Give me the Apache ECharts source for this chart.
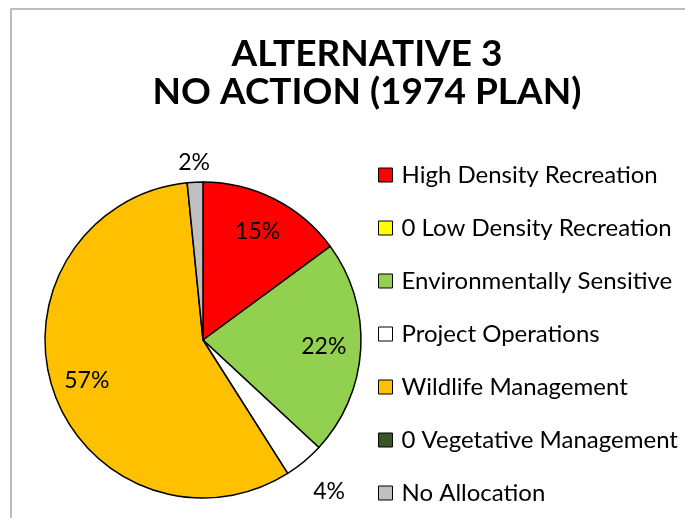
<!DOCTYPE html>
<html>
<head>
<meta charset="utf-8">
<script src="https://cdn.jsdelivr.net/npm/echarts@6/dist/echarts.min.js"></script>
<style>
  html, body { margin: 0; padding: 0; background: #ffffff; }
  #chart { width: 685px; height: 518px; }
</style>
</head>
<body>
<div id="chart"></div>
<script>
// ---- data ----
const titleLines = ['ALTERNATIVE 3', 'NO ACTION (1974 PLAN)'];
const categories = [
  'High Density Recreation',
  '0 Low Density Recreation',
  'Environmentally Sensitive',
  'Project Operations',
  'Wildlife Management',
  '0 Vegetative Management',
  'No Allocation'
];
const values = [14.9, 0, 22.0, 4.1, 57.4, 0, 1.6];
const colors = ['#FF0000', '#FFFF00', '#92D050', '#FFFFFF', '#FFC000', '#375623', '#BFBFBF'];

// ---- style ----
const pieCenter = [203, 340];
const pieRadius = 158;
const labelRadius = [121, 121, 121, 197, 123, 121, 178];
const FONT = 'Lato';

const chart = echarts.init(document.getElementById('chart'), null, { renderer: 'canvas' });

const data = categories.map((name, i) => {
  const item = { name: name, value: values[i], itemStyle: { color: colors[i] } };
  if (values[i] === 0) {
    item.itemStyle.borderWidth = 0;
    item.label = { show: false };
  }
  return item;
});

chart.setOption({
  backgroundColor: '#ffffff',
  animation: false,
  graphic: [{
    type: 'rect',
    z: -10,
    shape: { x: 11, y: 9, width: 720, height: 540 },
    style: { fill: 'none', stroke: '#a6a6a6', lineWidth: 1.5 }
  }],
  title: {
    text: titleLines.join('\n'),
    left: 362,
    textAlign: 'center',
    top: 30,
    textStyle: {
      fontFamily: FONT,
      fontWeight: 'bold',
      fontSize: 37,
      lineHeight: 38,
      color: '#000000'
    }
  },
  legend: {
    orient: 'vertical',
    left: 378,
    top: 163,
    padding: 0,
    itemWidth: 14,
    itemHeight: 14,
    itemGap: 29,
    icon: 'rect',
    itemStyle: { borderColor: '#000000', borderWidth: 1 },
    textStyle: {
      fontFamily: FONT,
      fontSize: 24,
      lineHeight: 24,
      color: '#000000',
      padding: [0, 0, 0, 4]
    },
    data: categories
  },
  series: [{
    type: 'pie',
    center: pieCenter,
    radius: pieRadius,
    startAngle: 90,
    clockwise: true,
    avoidLabelOverlap: false,
    itemStyle: { borderColor: '#000000', borderWidth: 1.5 },
    label: {
      show: true,
      position: 'inside',
      fontFamily: FONT,
      fontSize: 23,
      color: '#000000',
      formatter: p => Math.round(p.percent) + '%'
    },
    labelLine: { show: false },
    emphasis: { disabled: true },
    labelLayout: function (p) {
      const r = p.labelRect;
      const cx = r.x + r.width / 2, cy = r.y + r.height / 2;
      const dx = cx - pieCenter[0], dy = cy - pieCenter[1];
      const len = Math.sqrt(dx * dx + dy * dy) || 1;
      const R = labelRadius[p.dataIndex];
      return { x: pieCenter[0] + dx / len * R, y: pieCenter[1] + dy / len * R };
    },
    data: data
  }]
});
</script>
</body>
</html>
